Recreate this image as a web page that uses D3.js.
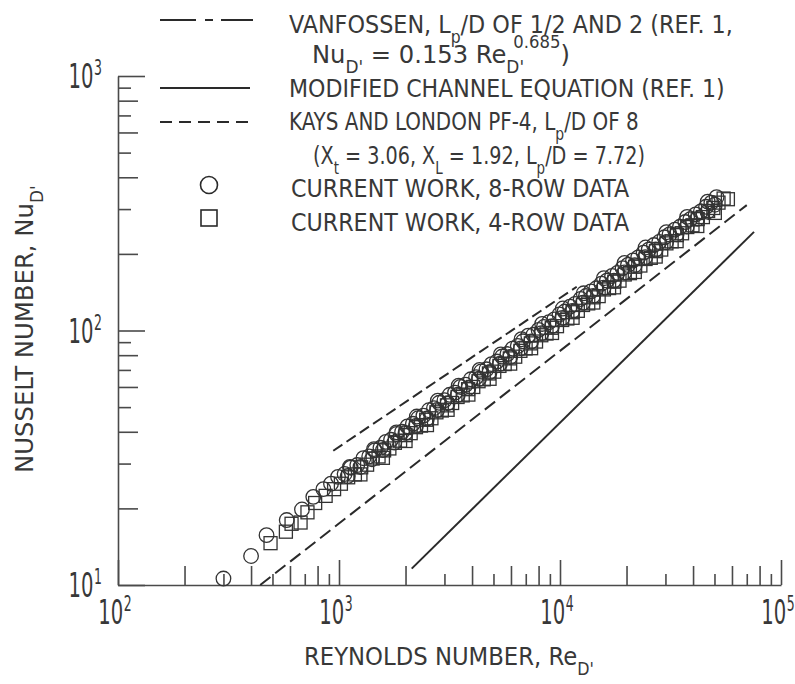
<!DOCTYPE html>
<html>
<head>
<meta charset="utf-8">
<script src="https://cdn.jsdelivr.net/npm/d3@7"></script>
<style>
body { margin: 0; background: #fff; }
text { font-family: "DejaVu Sans Condensed", "DejaVu Sans", sans-serif; fill: #383838; }
</style>
</head>
<body>
<div id="chart"></div>
<script>
// axis decades (exponents of the labelled ticks)
var xExponents = ["2", "3", "4", "5"];
var yExponents = ["1", "2", "3"];

// current work, 8-row data (circles): Reynolds number and Nusselt number
var eightRowRe = [300, 400, 470, 580, 680, 765, 850, 920, 990, 1060, 1130, 1210, 1290, 1370, 1450, 1540,
  1630, 1720, 1820, 1930, 2040, 2160, 2280, 2410, 2550, 2690, 2840, 3000, 3170, 3350, 3540, 3740, 3950,
  4170, 4400, 4650, 4900, 5180, 5470, 5780, 6100, 6440, 6800, 7180, 7580, 8000, 8450, 8920, 9420, 9950,
  10500, 11100, 11700, 12400, 13100, 13800, 14600, 15400, 16300, 17200, 18200, 19200, 20300, 21400,
  22600, 23900, 25200, 26600, 28100, 29700, 31300, 33100, 34900, 36900, 38900, 41100, 43400, 45800,
  48400, 51100,
  1095, 1250, 1410, 1580, 1780, 2000, 2230, 2500, 2780, 3100, 3450, 3850, 4300, 4800, 5350, 5950, 6650,
  7400, 8250, 9200, 10250, 11400, 12700, 14150, 15750, 17550, 19550, 21800, 24300, 27100, 30200, 33700,
  37500, 41800, 46500, 50200,
  1120, 1440, 1820, 2250, 2800, 3480, 4330, 5400, 6700, 8300, 10300, 12800, 15800, 19600, 24400, 30300,
  37600, 46600];
var eightRowNu = [10.6, 13.0, 15.7, 18.0, 19.8, 22.2, 23.8, 25.0, 26.6, 27.3, 28.9, 29.6, 31.5, 32.0, 33.8, 34.6,
  36.5, 37.2, 39.2, 40.0, 42.0, 43.0, 45.2, 46.3, 48.6, 49.5, 52.0, 53.2, 55.9, 57.0, 60.0, 61.2, 64.3,
  65.5, 69.0, 70.4, 73.8, 75.5, 79.0, 80.8, 84.8, 86.9, 90.7, 95.5, 96.2, 100.5, 103.2, 107.8, 110.6, 115.6,
  118.7, 124.0, 127.1, 133.0, 136.6, 142.4, 146.5, 152.7, 157.0, 163.8, 168.5, 175.8, 180.9, 188.4,
  193.8, 202.3, 207.7, 216.6, 222.7, 232.4, 238.5, 249.0, 255.6, 266.8, 274.0, 285.8, 293.8, 306.2,
  318.0, 334.0,
  26.8, 29.1, 31.2, 33.9, 36.3, 39.6, 42.2, 45.1, 48.7, 51.8, 55.9, 59.4, 64.6, 68.6, 74.0, 78.7, 85.1,
  90.5, 97.6, 104.0, 112.1, 119.3, 128.5, 136.8, 147.2, 157.0, 169.0, 180.5, 194.0, 208.0, 222.3, 239.0,
  256.0, 274.5, 293.0, 312.0,
  29.1, 34.2, 39.8, 45.9, 53.0, 60.7, 70.0, 80.5, 92.4, 106.1, 122.0, 140.0, 160.5, 184.3, 211.9, 243.3,
  279.5, 320.9];

// current work, 4-row data (squares)
var fourRowRe = [490, 575, 610, 670, 720, 780, 870, 950, 1020, 1100, 1180, 1260, 1340, 1420, 1510, 1600,
  1690, 1790, 1890, 2000, 2110, 2230, 2350, 2480, 2620, 2760, 2920, 3080, 3250, 3440, 3630, 3840, 4050,
  4280, 4520, 4770, 5040, 5320, 5620, 5930, 6270, 6620, 6990, 7380, 7790, 8230, 8690, 9180, 9690, 10230,
  10800, 11400, 12040, 12710, 13420, 14170, 14960, 15800, 16680, 17610, 18590, 19630, 20720, 21880,
  23100, 24390, 25750, 27190, 28710, 30310, 32000, 33790, 35670, 37660, 39760, 41980, 44320, 46790,
  49400, 52150, 55000, 57500,
  1250, 1580, 2000, 2500, 3100, 3850, 4800, 5950, 7400, 9200, 11400, 14150, 17550, 21800, 27100, 33700,
  41800, 50200];
var fourRowNu = [14.6, 16.2, 17.4, 17.6, 19.3, 21.0, 22.4, 23.8, 25.0, 26.5, 27.2, 29.0, 29.7, 31.4, 32.0, 33.8,
  34.4, 36.2, 36.9, 38.8, 39.5, 41.7, 42.3, 44.6, 45.2, 47.7, 48.5, 50.8, 51.9, 54.8, 55.6, 58.8, 60.0,
  63.2, 64.3, 67.8, 68.9, 72.6, 73.8, 77.7, 78.9, 83.2, 85.0, 89.0, 90.5, 95.8, 97.3, 102.5, 104.0, 110.0,
  111.5, 118.0, 119.5, 126.0, 127.8, 135.0, 136.5, 145.0, 146.8, 155.5, 157.0, 166.0, 168.0, 178.0,
  180.0, 191.0, 193.0, 205.0, 208.0, 220.0, 224.0, 237.0, 241.0, 255.0, 259.0, 274.0, 279.0, 295.0,
  303.0, 318.0, 330.0, 328.0,
  27.2, 31.6, 36.8, 42.5, 48.8, 56.0, 64.6, 74.1, 85.2, 97.8, 112.2, 128.8, 147.8, 169.8, 195.2, 224.4,
  257.4, 289.8];

// correlation lines (end points)
var vanfossenRe = [942, 11900];
var vanfossenNu = [33.7, 148.6];
var channelRe = [2133, 75500];
var channelNu = [11.6, 244];
var kaysRe = [440, 70000];
var kaysNu = [10, 311];

// legend and axis texts ({t: text, sub / sup: lowered or raised})
var legendLabels = [
  [{t: "VANFOSSEN, L"}, {t: "p", sub: 1}, {t: "/D OF 1/2 AND 2 (REF. 1,"}],
  [{t: "Nu"}, {t: "D'", sub: 1}, {t: " = 0.153 Re"}, {t: "D'", sub: 1}, {t: "0.685", sup: 1, back: 1}, {t: ")"}],
  [{t: "MODIFIED CHANNEL EQUATION (REF. 1)"}],
  [{t: "KAYS AND LONDON PF-4, L"}, {t: "p", sub: 1}, {t: "/D OF 8"}],
  [{t: "(X"}, {t: "t", sub: 1}, {t: " = 3.06, X"}, {t: "L", sub: 1}, {t: " = 1.92, L"}, {t: "p", sub: 1}, {t: "/D = 7.72)"}],
  [{t: "CURRENT WORK, 8-ROW DATA"}],
  [{t: "CURRENT WORK, 4-ROW DATA"}]
];
var xTitle = [{t: "REYNOLDS NUMBER, Re"}, {t: "D'", sub: 1}];
var yTitle = [{t: "NUSSELT NUMBER, Nu"}, {t: "D'", sub: 1}];

var svg = d3.select("#chart").append("svg")
    .attr("width", 795)
    .attr("height", 684);

svg.append("rect").attr("width", 795).attr("height", 684).attr("fill", "#fff");

var x = d3.scaleLog().domain([100, 100000]).range([118, 781]);
var y = d3.scaleLog().domain([10, 1000]).range([585, 76]);

// tick length: decade / even / odd
function tickLen(v, major, even, odd) {
  var e = Math.log10(v);
  if (Math.abs(e - Math.round(e)) < 1e-6) return major;
  var lead = Math.round(v / Math.pow(10, Math.floor(e)));
  return lead % 2 === 0 ? even : odd;
}

var axisColor = "#4a4a4a";

// x axis, ticks pointing inwards
var gx = svg.append("g")
    .attr("transform", "translate(0,585)")
    .call(d3.axisBottom(x).tickValues(x.ticks()).tickSizeOuter(0).tickFormat(""));
gx.selectAll(".tick line")
    .attr("y2", function(d) { return -tickLen(d, 25, 19, 11); });

// y axis, ticks pointing inwards
var gy = svg.append("g")
    .attr("transform", "translate(118,0)")
    .call(d3.axisLeft(y).tickValues(y.ticks()).tickSizeOuter(0).tickFormat(""));
gy.selectAll(".tick line")
    .attr("x2", function(d) { return tickLen(d, 27, 20, 13); });

svg.selectAll(".domain, .tick line")
    .attr("stroke", axisColor)
    .attr("stroke-width", 1.6);

// text with sub/superscripts, squeezed to a given width
function richText(parent, x0, y0, parts, size, targetWidth, rotate) {
  var g = parent.append("g");
  var t = g.append("text").attr("font-size", size);
  var shift = 0;
  parts.forEach(function(p) {
    var want = p.sub ? size * 0.38 : p.sup ? -size * 0.6 : 0;
    var s = t.append("tspan").text(p.t).attr("dy", want - shift);
    if (p.sub) s.attr("font-size", size * 0.7);
    if (p.sup) s.attr("font-size", size * 0.68);
    if (p.back) s.attr("dx", -size * 0.4);
    shift = want;
  });
  var w = t.node().getBBox().width;
  var sx = targetWidth ? targetWidth / w : 1;
  g.attr("transform", "translate(" + x0 + "," + y0 + ")" +
    (rotate ? " rotate(" + rotate + ")" : "") + " scale(" + sx + ",1)");
  return g;
}

// decade labels
function decadeLabel(e) {
  var g = svg.append("g");
  var t = g.append("text").style("font-size", "33px");
  t.append("tspan").text("10");
  t.append("tspan").text(e).style("font-size", "21px").attr("dy", -13).attr("dx", 1);
  return g;
}
xExponents.forEach(function(e) {
  var g = decadeLabel(e);
  var w = g.node().getBBox().width * 0.66;
  g.attr("transform", "translate(" + (x(Math.pow(10, +e)) - w / 2 - 3) + ",624) scale(0.66,1)");
});
yExponents.forEach(function(e) {
  var g = decadeLabel(e);
  var w = g.node().getBBox().width * 0.66;
  g.attr("transform", "translate(" + (102 - w) + "," + (y(Math.pow(10, +e)) + 12) + ") scale(0.66,1)");
});

// axis titles
richText(svg, 304, 665, xTitle, 25, 290);
richText(svg, 33, 473, yTitle, 25, 288, -90);

// correlation lines
var line = d3.line()
    .x(function(d) { return x(d[0]); })
    .y(function(d) { return y(d[1]); });

var lineColor = "#2a2a2a";
svg.append("path").datum(d3.zip(vanfossenRe, vanfossenNu))
    .attr("d", line).attr("fill", "none").attr("stroke", lineColor)
    .attr("stroke-width", 2).attr("stroke-dasharray", "11,5");
svg.append("path").datum(d3.zip(channelRe, channelNu))
    .attr("d", line).attr("fill", "none").attr("stroke", lineColor)
    .attr("stroke-width", 2);
svg.append("path").datum(d3.zip(kaysRe, kaysNu))
    .attr("d", line).attr("fill", "none").attr("stroke", lineColor)
    .attr("stroke-width", 2).attr("stroke-dasharray", "13,6");

// data points
var markColor = "#333";
svg.append("g").selectAll("rect")
    .data(d3.zip(fourRowRe, fourRowNu))
    .enter().append("rect")
    .attr("x", function(d) { return x(d[0]) - 6.5; })
    .attr("y", function(d) { return y(d[1]) - 6.5; })
    .attr("width", 13).attr("height", 13)
    .attr("fill", "none").attr("stroke", markColor).attr("stroke-width", 1.3);

svg.append("g").selectAll("circle")
    .data(d3.zip(eightRowRe, eightRowNu))
    .enter().append("circle")
    .attr("cx", function(d) { return x(d[0]); })
    .attr("cy", function(d) { return y(d[1]); })
    .attr("r", 7.3)
    .attr("fill", "none").attr("stroke", markColor).attr("stroke-width", 1.3);

// legend
var rowStart = [289, 312, 289, 289, 313, 291, 291];
var rowBase = [33, 63, 97, 130, 164, 197, 231];
var rowWidth = [444, 258, 436, 350, 332, 339, 339];
legendLabels.forEach(function(parts, i) {
  richText(svg, rowStart[i], rowBase[i], parts, 25, rowWidth[i]);
});

var leg = svg.append("g").attr("stroke", lineColor).attr("stroke-width", 2).attr("fill", "none");
leg.append("line").attr("x1", 160).attr("x2", 253).attr("y1", 20).attr("y2", 20)
    .attr("stroke-dasharray", "36,9,8,8,40");
leg.append("line").attr("x1", 160).attr("x2", 250).attr("y1", 88).attr("y2", 88);
leg.append("line").attr("x1", 160).attr("x2", 250).attr("y1", 122).attr("y2", 122)
    .attr("stroke-dasharray", "12,7");
leg.append("circle").attr("cx", 209).attr("cy", 185).attr("r", 8.5).attr("stroke-width", 1.6);
leg.append("rect").attr("x", 201).attr("y", 210).attr("width", 16).attr("height", 16).attr("stroke-width", 1.6);
</script>
</body>
</html>
